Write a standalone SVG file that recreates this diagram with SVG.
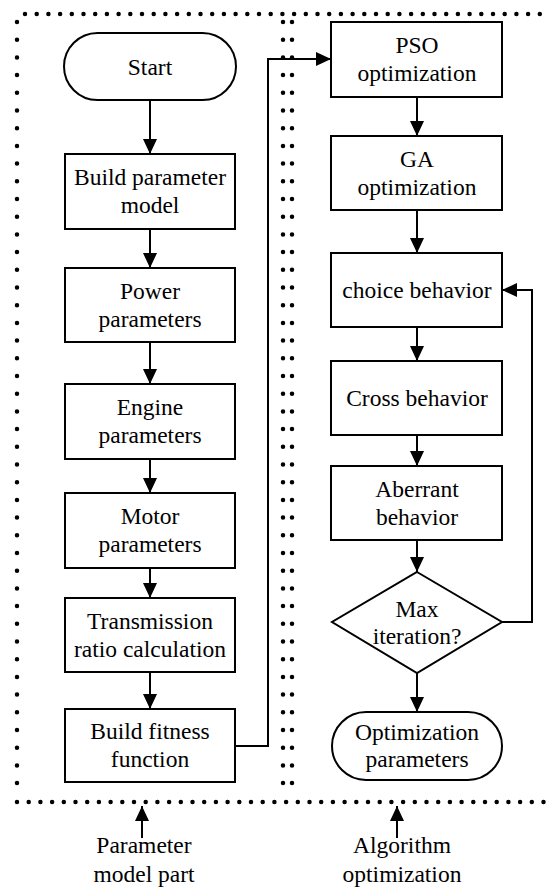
<svg xmlns="http://www.w3.org/2000/svg" width="551" height="889" viewBox="0 0 551 889">
<style>
.box{fill:#fff;stroke:#000;stroke-width:2}
.ln{fill:none;stroke:#000;stroke-width:2}
.dh{fill:none;stroke:#000;stroke-width:4.5;stroke-linecap:round;stroke-dasharray:0 11.7}
.dv{fill:none;stroke:#000;stroke-width:4.5;stroke-linecap:round;stroke-dasharray:0 17.7}
text{font-family:"Liberation Serif","Noto Serif","DejaVu Serif","Tinos","FreeSerif","Times New Roman",Times,serif;font-size:23.5px;fill:#000;text-anchor:middle}
</style>
<defs>
<marker id="ah" markerUnits="userSpaceOnUse" markerWidth="15" markerHeight="14" refX="15" refY="7" orient="auto">
<path d="M0,0 L15,7 L0,14 Z" fill="#000"/>
</marker>
</defs>
<g id="frame">
<path class="dh" d="M25,14 H551"/>
<path class="dh" d="M17,802 H551"/>
<path class="dv" d="M17,22 V795"/>
<path class="dv" d="M283,22 V795"/>
<path class="dv" d="M292,22 V795"/>
</g>
<g id="connectors">
<path class="ln" d="M150,100 V154" marker-end="url(#ah)"/>
<path class="ln" d="M150,229 V268" marker-end="url(#ah)"/>
<path class="ln" d="M150,342 V384" marker-end="url(#ah)"/>
<path class="ln" d="M150,459 V493" marker-end="url(#ah)"/>
<path class="ln" d="M150,568 V598" marker-end="url(#ah)"/>
<path class="ln" d="M150,672 V709" marker-end="url(#ah)"/>
<path class="ln" d="M236,746 H268 V59 H331" marker-end="url(#ah)"/>
<path class="ln" d="M417,97 V136" marker-end="url(#ah)"/>
<path class="ln" d="M417,210 V253" marker-end="url(#ah)"/>
<path class="ln" d="M417,327 V361" marker-end="url(#ah)"/>
<path class="ln" d="M417,435 V466" marker-end="url(#ah)"/>
<path class="ln" d="M417,540 V572" marker-end="url(#ah)"/>
<path class="ln" d="M417,673 V712" marker-end="url(#ah)"/>
<path class="ln" d="M502,622 H532 V290 H502" marker-end="url(#ah)"/>
<path class="ln" d="M142,838 V806" marker-end="url(#ah)"/>
<path class="ln" d="M397,838 V806" marker-end="url(#ah)"/>
</g>
<g id="start">
<rect class="box" x="64" y="33" width="172" height="67" rx="33.5"/>
<text x="150" y="75">Start</text>
</g>
<g id="build-parameter-model">
<rect class="box" x="65" y="154" width="170" height="75"/>
<text x="150" y="185">Build parameter</text>
<text x="150" y="213">model</text>
</g>
<g id="power-parameters">
<rect class="box" x="65" y="268" width="170" height="74"/>
<text x="150" y="298.5">Power</text>
<text x="150" y="326.5">parameters</text>
</g>
<g id="engine-parameters">
<rect class="box" x="65" y="384" width="170" height="75"/>
<text x="150" y="415">Engine</text>
<text x="150" y="443">parameters</text>
</g>
<g id="motor-parameters">
<rect class="box" x="65" y="493" width="170" height="75"/>
<text x="150" y="524">Motor</text>
<text x="150" y="552">parameters</text>
</g>
<g id="transmission">
<rect class="box" x="65" y="598" width="170" height="74"/>
<text x="150" y="628.5">Transmission</text>
<text x="150" y="656.5">ratio calculation</text>
</g>
<g id="build-fitness">
<rect class="box" x="65" y="709" width="170" height="73"/>
<text x="150" y="739">Build fitness</text>
<text x="150" y="767">function</text>
</g>
<g id="pso">
<rect class="box" x="331" y="22" width="171" height="75"/>
<text x="417" y="53">PSO</text>
<text x="417" y="81">optimization</text>
</g>
<g id="ga">
<rect class="box" x="331" y="136" width="171" height="74"/>
<text x="417" y="166.5">GA</text>
<text x="417" y="194.5">optimization</text>
</g>
<g id="choice">
<rect class="box" x="331" y="253" width="171" height="74"/>
<text x="417" y="298">choice behavior</text>
</g>
<g id="cross">
<rect class="box" x="331" y="361" width="171" height="74"/>
<text x="417" y="406">Cross behavior</text>
</g>
<g id="aberrant">
<rect class="box" x="331" y="466" width="171" height="74"/>
<text x="417" y="496.5">Aberrant</text>
<text x="417" y="524.5">behavior</text>
</g>
<g id="max-iteration">
<path class="box" d="M417,572 L502,622 L417,673 L332,622 Z"/>
<text x="417" y="617">Max</text>
<text x="417" y="644">iteration?</text>
</g>
<g id="optimization-parameters">
<rect class="box" x="332" y="712" width="170" height="68" rx="34"/>
<text x="417" y="740">Optimization</text>
<text x="417" y="767">parameters</text>
</g>
<g id="labels">
<text x="144" y="853">Parameter</text>
<text x="144" y="882">model part</text>
<text x="402" y="853">Algorithm</text>
<text x="402" y="882">optimization</text>
</g>
</svg>
